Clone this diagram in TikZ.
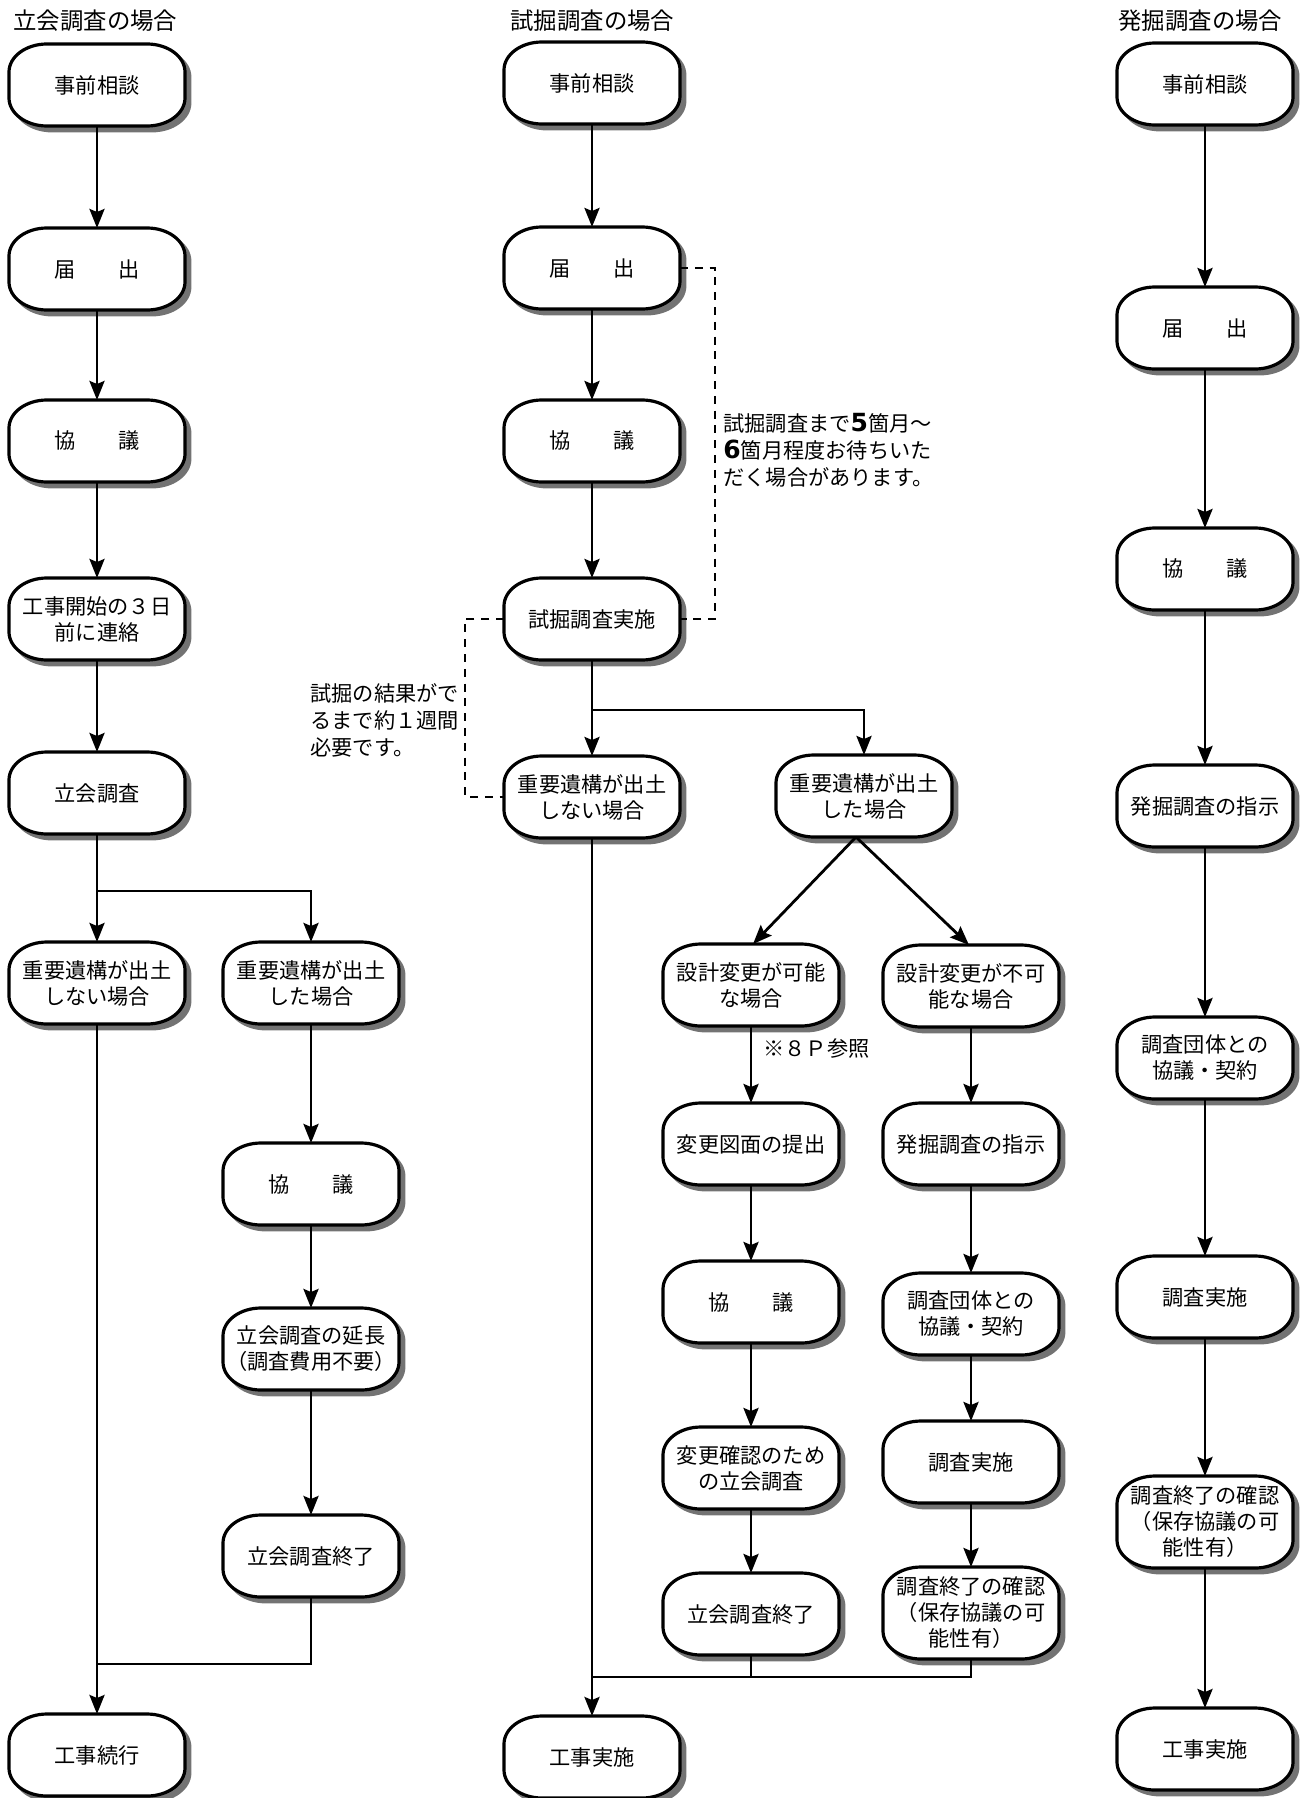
\documentclass[tikz,border=0pt]{standalone}
\usepackage{fontspec}
\setmainfont{Noto Sans CJK JP}
\newfontfamily\numfont{DejaVu Sans}
\usetikzlibrary{arrows.meta,backgrounds}
\newcommand\bxrx{19pt}
\newcommand\bxry{14pt}
\newcommand\boxpath[1]{([xshift=\bxrx]#1.north west) -- ([xshift=-\bxrx]#1.north east) arc[start angle=90,end angle=0,x radius=\bxrx,y radius=\bxry] -- ([yshift=\bxry]#1.south east) arc[start angle=0,end angle=-90,x radius=\bxrx,y radius=\bxry] -- ([xshift=\bxrx]#1.south west) arc[start angle=-90,end angle=-180,x radius=\bxrx,y radius=\bxry] -- ([yshift=-\bxry]#1.north west) arc[start angle=180,end angle=90,x radius=\bxrx,y radius=\bxry] -- cycle}
\begin{document}
\begin{tikzpicture}[x=0.5pt,y=-0.5pt,
  bx/.style={minimum width=88pt,minimum height=41pt,inner sep=0pt,outer sep=0pt,align=center,font=\fontsize{10.6pt}{13pt}\selectfont},
  tall/.style={minimum height=46pt},
  conn/.style={line width=1.4pt},
  arr/.style={conn,-{Stealth[length=9.5pt,width=7.5pt,inset=1.5pt]}},
  dashln/.style={line width=1.4pt,dash pattern=on 4pt off 3.4pt},
  ttl/.style={anchor=west,inner sep=0pt,font=\fontsize{11.7pt}{14pt}\selectfont},
  notetext/.style={anchor=west,align=left,inner sep=0pt,font=\fontsize{10.6pt}{13.5pt}\selectfont},
  boxshadow/.style={fill=black!55,draw=black!55,line width=1.4pt},
  boxline/.style={fill=white,draw=black,line width=1.6pt}]
\useasboundingbox (0,0) rectangle (1308,1798);

% titles
\node[ttl] (t1) at (13,21) {立会調査の場合};
\node[ttl] (t2) at (510,21) {試掘調査の場合};
\node[ttl] (t3) at (1118,21) {発掘調査の場合};

% column 1
\node[bx] (a1) at (97,85) {事前相談};
\node[bx] (a2) at (97,269) {届　　出};
\node[bx] (a3) at (97,441) {協　　議};
\node[bx] (a4) at (97,619) {工事開始の３日\\前に連絡};
\node[bx] (a5) at (97,793) {立会調査};
\node[bx] (a6) at (97,983) {重要遺構が出土\\しない場合};
\node[bx] (a7) at (311,983) {重要遺構が出土\\した場合};
\node[bx] (a8) at (311,1184) {協　　議};
\node[bx] (a9) at (311,1349) {立会調査の延長\\（調査費用不要）};
\node[bx] (a10) at (311,1556) {立会調査終了};
\node[bx] (a11) at (97,1755) {工事続行};

% column 2
\node[bx] (c2a) at (592,83) {事前相談};
\node[bx] (c2b) at (592,268) {届　　出};
\node[bx] (c2c) at (592,441) {協　　議};
\node[bx] (c2d) at (592,619) {試掘調査実施};
\node[bx] (c2e) at (592,797) {重要遺構が出土\\しない場合};
\node[bx] (c2f) at (864,796) {重要遺構が出土\\した場合};
\node[bx] (c2g) at (751,985) {設計変更が可能\\な場合};
\node[bx] (c2h) at (971,986) {設計変更が不可\\能な場合};
\node[bx] (c2i) at (751,1144) {変更図面の提出};
\node[bx] (c2j) at (971,1144) {発掘調査の指示};
\node[bx] (c2k) at (751,1302) {協　　議};
\node[bx] (c2l) at (971,1314) {調査団体との\\協議・契約};
\node[bx] (c2m) at (751,1468) {変更確認のため\\の立会調査};
\node[bx] (c2n) at (971,1462) {調査実施};
\node[bx] (c2o) at (751,1614) {立会調査終了};
\node[bx,tall] (c2p) at (971,1613) {調査終了の確認\\（保存協議の可\\能性有）};
\node[bx] (c2q) at (592,1757) {工事実施};

% column 3
\node[bx] (b1) at (1205,84) {事前相談};
\node[bx] (b2) at (1205,328) {届　　出};
\node[bx] (b3) at (1205,569) {協　　議};
\node[bx] (b4) at (1205,806) {発掘調査の指示};
\node[bx] (b5) at (1205,1058) {調査団体との\\協議・契約};
\node[bx] (b6) at (1205,1297) {調査実施};
\node[bx,tall] (b7) at (1205,1522) {調査終了の確認\\（保存協議の可\\能性有）};
\node[bx] (b8) at (1205,1749) {工事実施};

% box outlines with shadows
\begin{scope}[on background layer]
  \begin{scope}[transform canvas={xshift=2.5pt,yshift=-2.5pt}]
    \foreach \n in {a1,a2,a3,a4,a5,a6,a7,a8,a9,a10,a11,c2a,c2b,c2c,c2d,c2e,c2f,c2g,c2h,c2i,c2j,c2k,c2l,c2m,c2n,c2o,c2p,c2q,b1,b2,b3,b4,b5,b6,b7,b8}
      \draw[boxshadow] \boxpath{\n};
  \end{scope}
  \foreach \n in {a1,a2,a3,a4,a5,a6,a7,a8,a9,a10,a11,c2a,c2b,c2c,c2d,c2e,c2f,c2g,c2h,c2i,c2j,c2k,c2l,c2m,c2n,c2o,c2p,c2q,b1,b2,b3,b4,b5,b6,b7,b8}
    \draw[boxline] \boxpath{\n};
\end{scope}

% column 1 connectors
\draw[arr] (a1.south) -- (a2.north);
\draw[arr] (a2.south) -- (a3.north);
\draw[arr] (a3.south) -- (a4.north);
\draw[arr] (a4.south) -- (a5.north);
\coordinate (j1) at (97,891);
\draw[conn] (a5.south) -- (j1);
\draw[arr] (j1) -- (a6.north);
\draw[arr] (j1) -| (a7.north);
\draw[arr] (a7.south) -- (a8.north);
\draw[arr] (a8.south) -- (a9.north);
\draw[arr] (a9.south) -- (a10.north);
\draw[arr] (a6.south) -- (a11.north);
\coordinate (j2) at (97,1664);
\draw[conn] (a10.south) |- (j2);

% column 2 connectors
\draw[arr] (c2a.south) -- (c2b.north);
\draw[arr] (c2b.south) -- (c2c.north);
\draw[arr] (c2c.south) -- (c2d.north);
\coordinate (k1) at (592,710);
\draw[conn] (c2d.south) -- (k1);
\draw[arr] (k1) -- (c2e.north);
\draw[arr] (k1) -| (c2f.north);
\draw[arr] ([xshift=-4pt]c2f.south) -- ([xshift=1pt]c2g.north);
\draw[arr] ([xshift=-4pt]c2f.south) -- ([xshift=-1pt]c2h.north);
\draw[arr] (c2g.south) -- (c2i.north);
\draw[arr] (c2i.south) -- (c2k.north);
\draw[arr] (c2k.south) -- (c2m.north);
\draw[arr] (c2m.south) -- (c2o.north);
\draw[arr] (c2h.south) -- (c2j.north);
\draw[arr] (c2j.south) -- (c2l.north);
\draw[arr] (c2l.south) -- (c2n.north);
\draw[arr] (c2n.south) -- (c2p.north);
\draw[arr] (c2e.south) -- (c2q.north);
\coordinate (k2) at (592,1677);
\draw[conn] (c2o.south) -- (c2o.south |- k2);
\draw[conn] (c2p.south) |- (k2);

% dashed connectors
\coordinate (rd) at (715,0);
\coordinate (ld) at (465,0);
\draw[dashln] (c2b.east) -- (c2b.east -| rd) |- (c2d.east);
\draw[dashln] (c2d.west) -- (c2d.west -| ld) |- (c2e.west);

% notes
\node[notetext] (n1) at (723,450) {試掘調査まで{\numfont\bfseries\fontsize{12.5pt}{13.5pt}\selectfont 5}箇月～\\{\numfont\bfseries\fontsize{12.5pt}{13.5pt}\selectfont 6}箇月程度お待ちいた\\だく場合があります。};
\node[notetext] (n2) at (310,720) {試掘の結果がで\\るまで約１週間\\必要です。};
\node[notetext] (n3) at (763,1048) {※８Ｐ参照};

% column 3 connectors
\draw[arr] (b1.south) -- (b2.north);
\draw[arr] (b2.south) -- (b3.north);
\draw[arr] (b3.south) -- (b4.north);
\draw[arr] (b4.south) -- (b5.north);
\draw[arr] (b5.south) -- (b6.north);
\draw[arr] (b6.south) -- (b7.north);
\draw[arr] (b7.south) -- (b8.north);
\end{tikzpicture}
\end{document}
